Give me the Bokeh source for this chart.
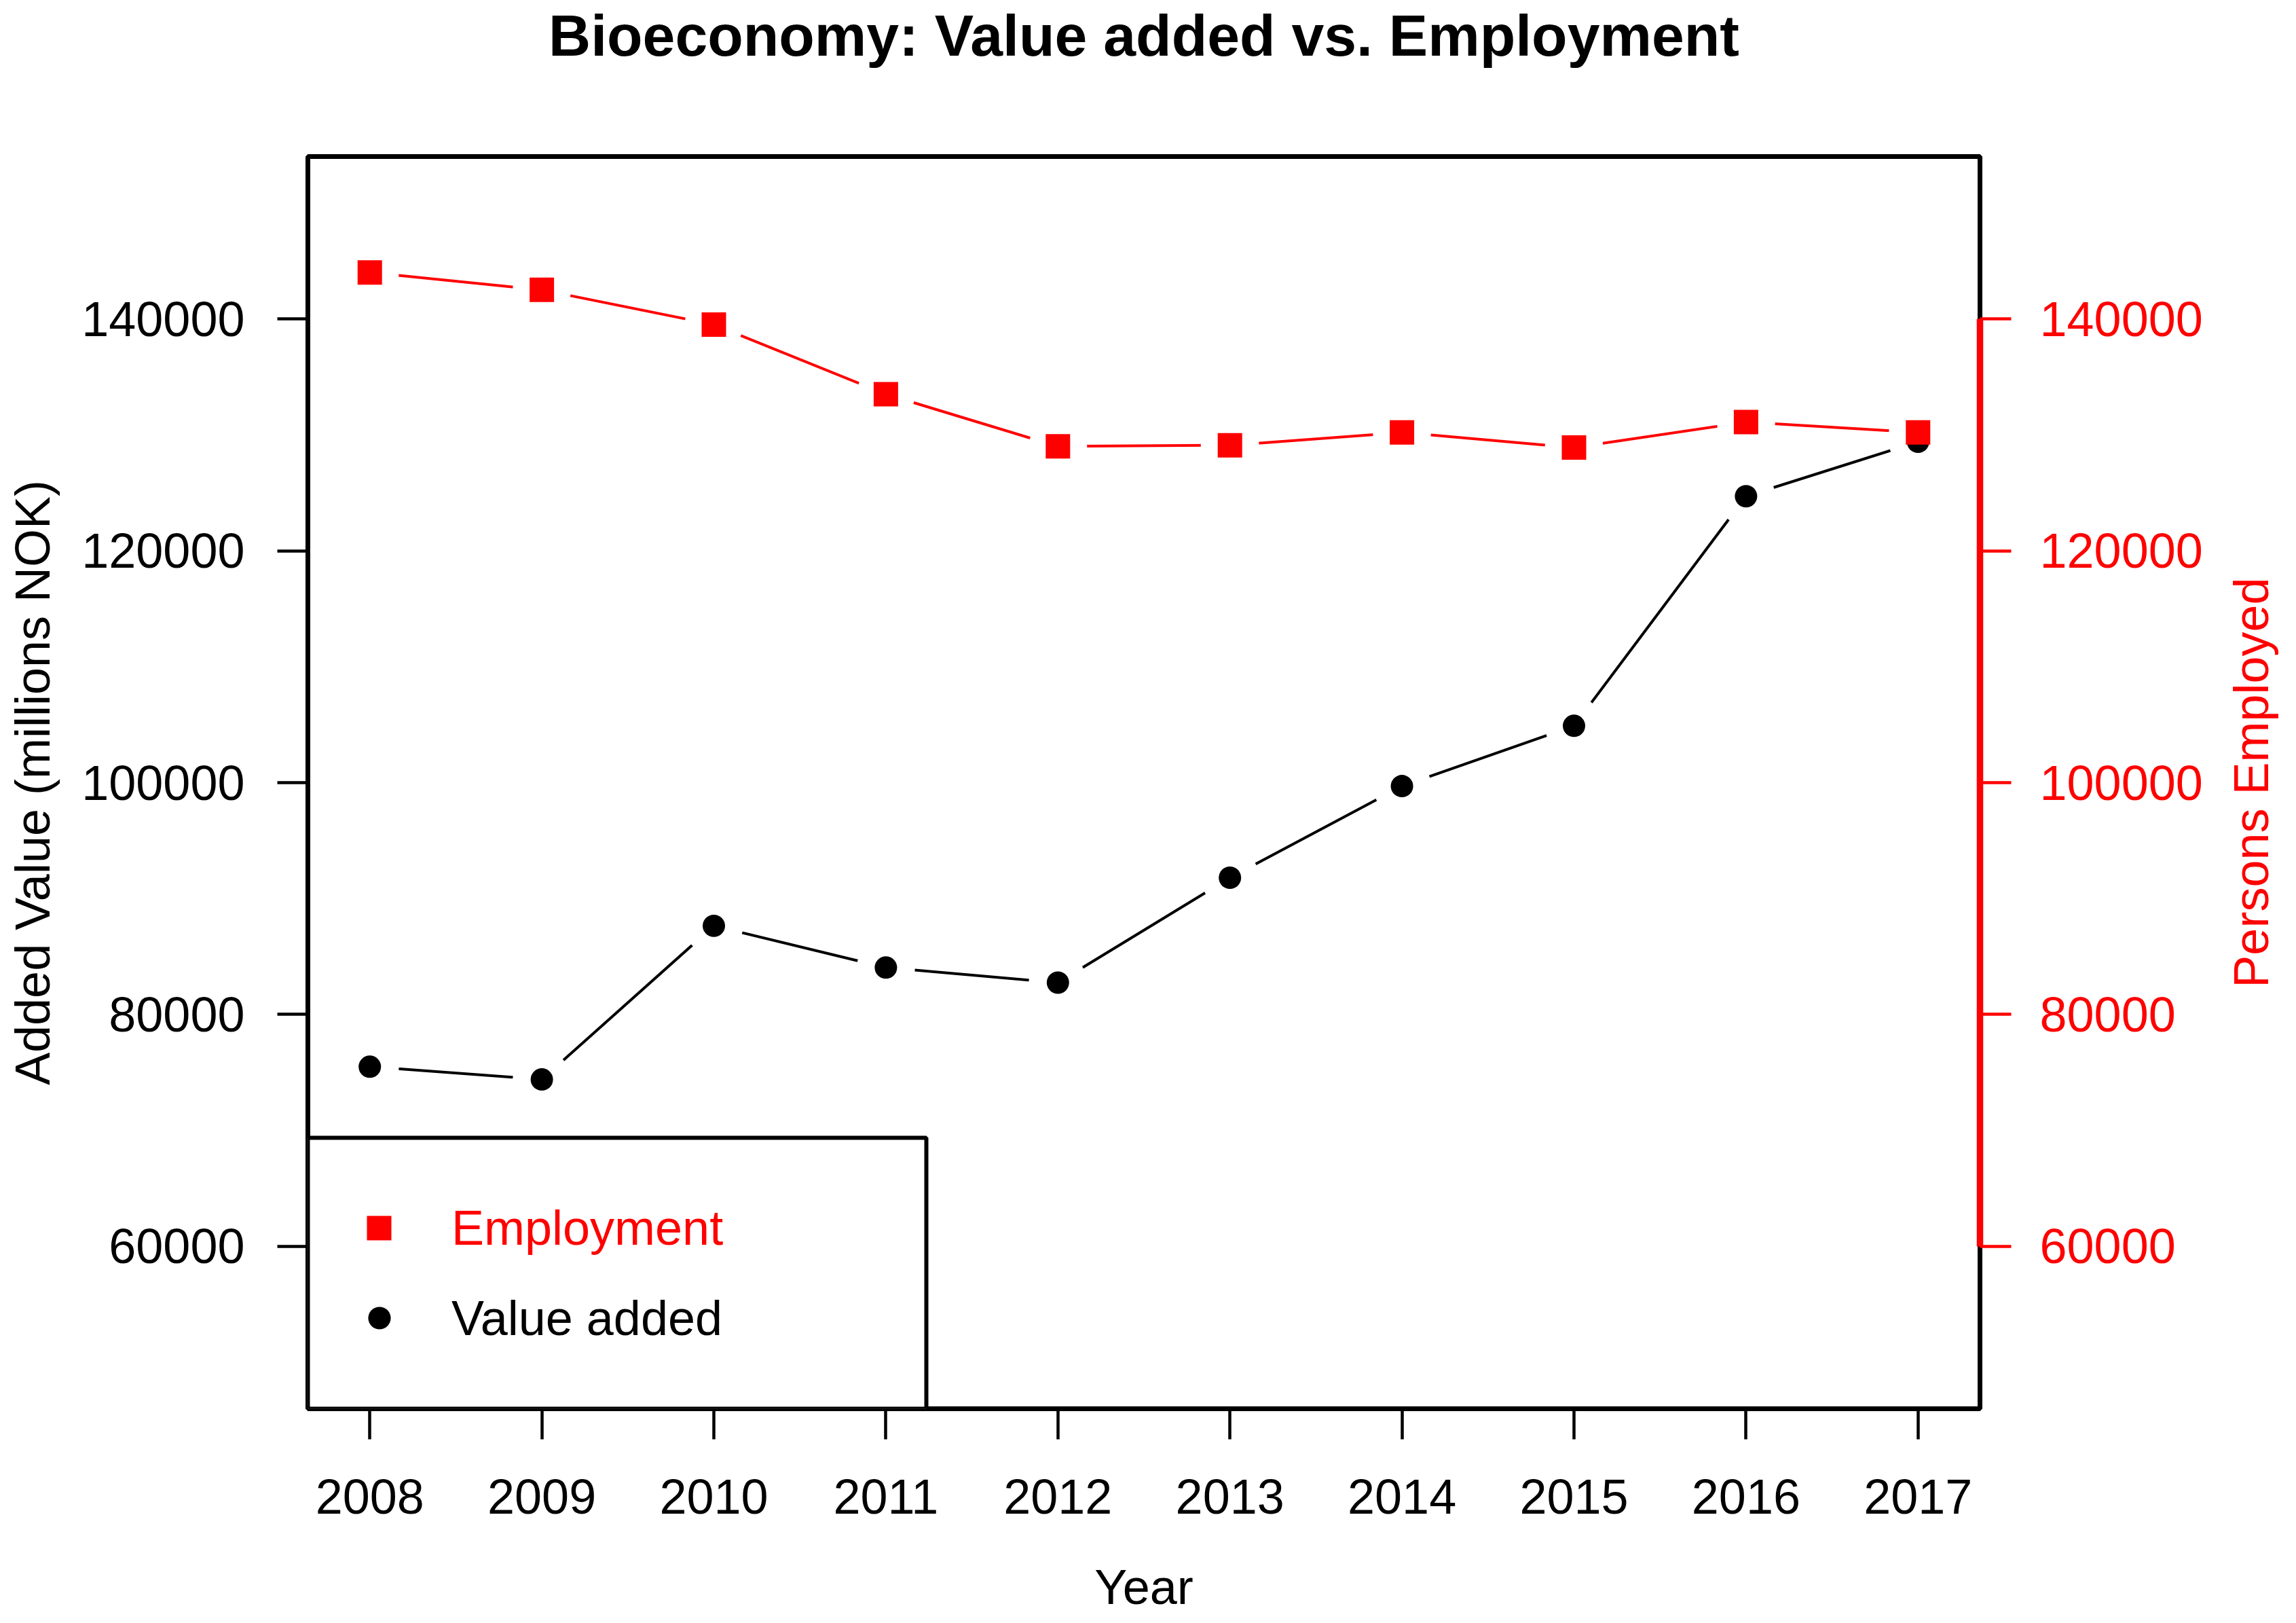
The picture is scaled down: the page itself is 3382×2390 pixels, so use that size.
import math
from bokeh.plotting import figure
from bokeh.models import (Range1d, LinearAxis, FixedTicker, Legend, LegendItem, Label,
                          BoxAnnotation, BasicTickFormatter)
from bokeh.embed import file_html
from bokeh.resources import INLINE

# ---------------- data ----------------
years = [2008, 2009, 2010, 2011, 2012, 2013, 2014, 2015, 2016, 2017]
value_added = [75500, 74400, 87650, 84050, 82750, 91800, 99700, 104900, 124700, 129400]
employment = [144000, 142500, 139500, 133500, 129000, 129100, 130200, 128900, 131100, 130200]
y_ticks = [60000, 80000, 100000, 120000, 140000]
title_text = "Bioeconomy: Value added vs. Employment"
x_title = "Year"
y_left_title = "Added Value (millions NOK)"
y_right_title = "Persons Employed"
legend_labels = ["Employment", "Value added"]

FONT = "Liberation Sans"
FS = "72px"
RED = "#ff0000"

p = figure(frame_width=2463, frame_height=1844,
           x_range=Range1d(2007.64, 2017.36), y_range=Range1d(46000, 154000),
           output_backend="svg", toolbar_location=None,
           min_border_left=453, min_border_right=466,
           min_border_top=230, min_border_bottom=316)
p.extra_y_ranges = {"emp": Range1d(46000, 154000)}
p.xgrid.visible = False
p.ygrid.visible = False
p.background_fill_color = "white"
p.border_fill_color = "white"
p.outline_line_color = "black"
p.outline_line_width = 7
p.outline_line_alpha = 1.0

# grab the default axes before any extra axis is added
xa = p.below[0]
ya = p.left[0]

p.title.text = title_text
p.title.align = "center"
p.title.text_font = FONT
p.title.text_font_size = "86px"
p.title.text_font_style = "bold"
p.title.text_color = "black"
p.title.standoff = 0

# bottom axis
xa.ticker = FixedTicker(ticks=years)
xa.axis_label = x_title
xa.axis_line_color = None
xa.major_tick_line_color = "black"
xa.major_tick_line_width = 4.5
xa.major_tick_out = 45
xa.major_tick_in = 0
xa.minor_tick_line_color = None
xa.major_label_standoff = 59
xa.major_label_text_font = FONT
xa.major_label_text_font_size = FS
xa.major_label_text_color = "black"
xa.axis_label_standoff = 65
xa.axis_label_text_font = FONT
xa.axis_label_text_font_size = FS
xa.axis_label_text_font_style = "normal"
xa.axis_label_text_color = "black"

# left axis
ya.ticker = FixedTicker(ticks=y_ticks)
ya.formatter = BasicTickFormatter(use_scientific=False)
ya.axis_label = y_left_title
ya.axis_line_color = None
ya.major_tick_line_color = "black"
ya.major_tick_line_width = 4.5
ya.major_tick_out = 45
ya.major_tick_in = 0
ya.minor_tick_line_color = None
ya.major_label_standoff = 48
ya.major_label_text_font = FONT
ya.major_label_text_font_size = FS
ya.major_label_text_color = "black"
ya.axis_label_standoff = 29
ya.axis_label_text_font = FONT
ya.axis_label_text_font_size = FS
ya.axis_label_text_font_style = "normal"
ya.axis_label_text_color = "black"

# invisible spacer between frame and title (one near-transparent tick gives it height)
spacer = LinearAxis(ticker=FixedTicker(ticks=[years[4]]))
spacer.axis_line_color = None
spacer.major_tick_line_color = "white"
spacer.major_tick_line_alpha = 0.01
spacer.major_tick_line_width = 1
spacer.minor_tick_line_color = None
spacer.major_tick_out = 131
spacer.major_tick_in = 0
spacer.major_label_standoff = 0
spacer.major_label_text_font_size = "0px"
spacer.major_label_overrides = {years[4]: ""}
p.add_layout(spacer, "above")

# right axis (red)
ra = LinearAxis(y_range_name="emp", ticker=FixedTicker(ticks=y_ticks),
                formatter=BasicTickFormatter(use_scientific=False),
                bounds=(y_ticks[0], y_ticks[-1]))
ra.axis_line_color = RED
ra.axis_line_width = 9.5
ra.major_tick_line_color = RED
ra.major_tick_line_width = 4.5
ra.major_tick_out = 46
ra.major_tick_in = 0
ra.minor_tick_line_color = None
ra.major_label_standoff = 42
ra.major_label_text_font = FONT
ra.major_label_text_font_size = FS
ra.major_label_text_color = RED
p.add_layout(ra, "right")

# right-hand title, reading bottom to top, in its own side panel
p.add_layout(Label(x=68, y=100000, x_units="screen", y_units="data", text=y_right_title,
                   angle=math.pi / 2, text_align="center", text_baseline="middle",
                   text_font=FONT, text_font_size=FS, text_color=RED), "right")

# ---------------- series ----------------
p.line(years, value_added, line_color="black", line_width=4)
p.line(years, employment, line_color=RED, line_width=4, y_range_name="emp")
# white halos reproduce the gaps of R's type="b"
p.scatter(years, value_added, marker="circle", size=86, fill_color="white", line_color=None)
p.scatter(years, employment, marker="circle", size=86, fill_color="white", line_color=None,
          y_range_name="emp")
va_pts = p.scatter(years, value_added, marker="circle", size=33, fill_color="black", line_color=None)
emp_pts = p.scatter(years, employment, marker="square", size=36, fill_color=RED, line_color=None,
                    y_range_name="emp")

# ---------------- legend ----------------
box = BoxAnnotation(left=0, right=911, bottom=0, top=399,
                    left_units="screen", right_units="screen",
                    top_units="screen", bottom_units="screen",
                    fill_color="white", fill_alpha=1.0,
                    line_color="black", line_width=6, line_alpha=1.0)
p.add_layout(box)

leg1 = Legend(items=[LegendItem(label=legend_labels[0], renderers=[emp_pts])],
              location=(60, 221), glyph_width=90, glyph_height=90, label_standoff=62,
              padding=0, margin=0, spacing=0, border_line_alpha=0, background_fill_alpha=0,
              label_text_font=FONT, label_text_font_size=FS, label_text_color=RED)
leg2 = Legend(items=[LegendItem(label=legend_labels[1], renderers=[va_pts])],
              location=(64, 92), glyph_width=83, glyph_height=83, label_standoff=65,
              padding=0, margin=0, spacing=0, border_line_alpha=0, background_fill_alpha=0,
              label_text_font=FONT, label_text_font_size=FS, label_text_color="black")
p.add_layout(leg1)
p.add_layout(leg2)

open("out.html", "w").write(file_html(p, INLINE))
